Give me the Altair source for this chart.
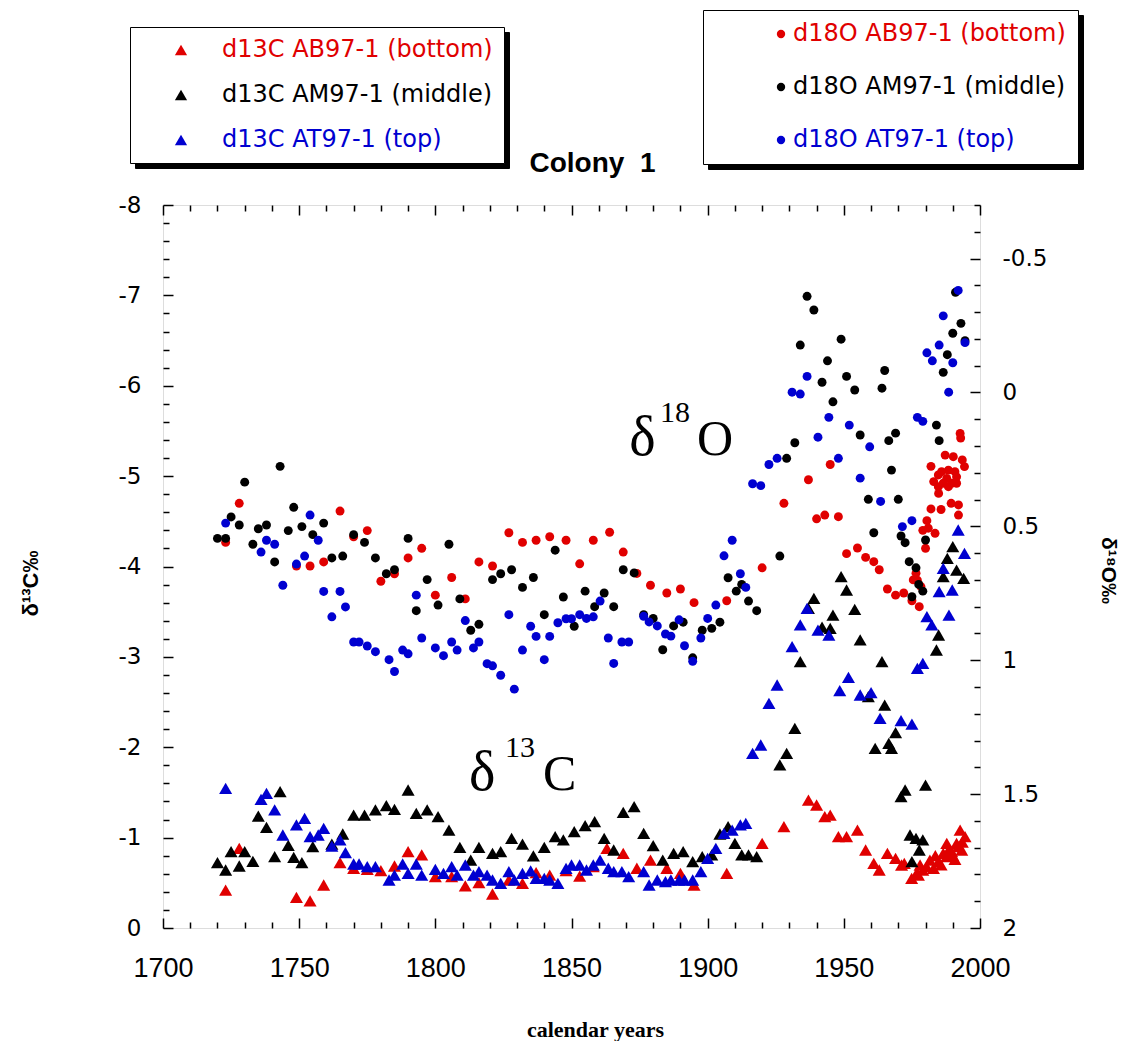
import altair as alt
import pandas as pd

RED = "#e00000"
BLACK = "#000000"
BLUE = "#0000d0"

C_NAMES = ["d13C AB97-1 (bottom)", "d13C AM97-1 (middle)", "d13C AT97-1 (top)"]
O_NAMES = ["d18O AB97-1 (bottom)", "d18O AM97-1 (middle)", "d18O AT97-1 (top)"]

# ---------------- d13C (triangles) ----------------
years_c_ab = [1723,1728,1749,1754,1759,1765,1770,1775,1780,1785,1790,1795,1800,1806,1811,1816,1821,1827,1832,1837,
              1842,1848,1853,1858,1863,1869,1874,1879,1885,1890,1895,1907,1920,1928,1937,1940,1943,1945,1948,1951,
              1955,1958,1961,1963,1966,1969,1971.2,1972.2,1974.9,1976.7,1977.4,1978,1979,1980.4,1981.6,1982.9,1983.6,
              1984.7,1985.7,1986.5,1987.8,1987.8,1988.4,1989.6,1990,1990.8,1991.4,1992,1992.7,1993.3,1993.5,1994.5]
c_ab = [-0.420,-0.882,-0.339,-0.299,-0.476,-0.723,-0.660,-0.650,-0.634,-0.686,-0.845,-0.808,-0.568,-0.568,-0.465,
        -0.501,-0.376,-0.531,-0.494,-0.612,-0.586,-0.634,-0.575,-0.680,-0.882,-0.826,-0.661,-0.752,-0.661,-0.605,
        -0.476,-0.605,-0.937,-1.121,-1.416,-1.361,-1.232,-1.250,-1.010,-1.010,-1.084,-0.863,-0.716,-0.642,-0.826,
        -0.771,-0.697,-0.716,-0.550,-0.605,-0.586,-0.697,-0.640,-0.678,-0.752,-0.660,-0.800,-0.734,-0.700,-0.826,
        -0.789,-0.937,-0.860,-0.845,-0.800,-0.760,-0.937,-0.900,-1.084,-0.863,-0.950,-1.010]

years_c_am = [1720,1723,1725,1728,1730,1733,1735,1738,1741,1743,1746,1748,1751,1755,1762,1766,1770,1774,1778,1782,
              1785,1790,1793,1797,1801,1805,1809,1813,1816,1821,1824,1828,1832,1836,1840,1844,1847,1851,1855,1858.5,
              1862,1865.5,1869,1873,1876.5,1880,1883.5,1887.5,1891,1894.5,1898,1901.5,1904.5,1907.5,1910,1912.5,1915,
              1918,1926.5,1929,1932,1934,1937,1939,1942,1945,1946,1949,1951,1954,1956,1959,1961.5,1964,1965,1966.5,
              1967.5,1969,1971,1972.5,1974.3,1975,1976.5,1977.7,1979,1980,1984,1984.8,1986.5,1988,1990,1991.4,1994]
c_am = [-0.723,-0.642,-0.845,-0.686,-0.845,-0.738,-1.239,-1.114,-0.789,-1.508,-0.915,-0.782,-0.723,-0.900,-0.929,
        -1.040,-1.250,-1.250,-1.306,-1.354,-1.313,-1.527,-1.269,-1.306,-1.232,-1.084,-0.893,-0.752,-0.893,-0.826,
        -0.845,-0.992,-0.929,-0.797,-0.893,-1.011,-0.974,-1.066,-1.132,-1.176,-0.992,-0.863,-1.280,-1.342,-1.048,
        -0.911,-0.752,-0.826,-0.844,-0.734,-0.789,-0.808,-1.040,-1.121,-0.937,-0.808,-0.808,-0.789,-1.804,-1.933,
        -2.210,-2.947,-3.537,-3.648,-3.330,-3.316,-3.463,-3.887,-3.740,-3.526,-3.187,-2.560,-1.988,-2.947,-2.467,
        -2.044,-1.988,-2.161,-1.453,-1.527,-1.029,-0.734,-0.992,-0.863,-0.974,-1.582,-3.076,-3.242,-3.887,-4.090,
        -4.219,-3.961,-3.869]

years_c_at = [1723,1736,1738,1741,1744,1749,1752,1754,1757,1759,1762,1765,1767,1770,1772,1775,1778,1783,1785,1788,
              1790,1793,1795,1800,1803,1806,1808,1811,1814,1816,1819,1821,1824,1827,1829,1832,1835,1837,1840,1842,
              1845,1848,1850,1853,1855.5,1858,1860.5,1863.5,1865.5,1868.5,1871,1876.5,1878.5,1881.5,1884.5,1886.5,
              1889.5,1891.5,1894.5,1897.5,1900,1903,1906,1909,1912,1914,1916.5,1919.5,1922.5,1925.5,1931,1934,1936.5,
              1940.5,1944.5,1948.5,1951.7,1956,1960,1963.3,1971,1975,1977,1979,1980.5,1982.3,1985,1986.5,1988.6,
              1989.8,1992,1994.3]
c_at = [-1.545,-1.424,-1.490,-1.306,-1.029,-1.140,-1.213,-1.011,-1.029,-1.103,-0.907,-0.974,-0.834,-0.708,-0.708,
        -0.679,-0.679,-0.531,-0.586,-0.708,-0.605,-0.708,-0.586,-0.649,-0.605,-0.679,-0.586,-0.697,-0.586,-0.623,
        -0.586,-0.531,-0.494,-0.623,-0.531,-0.605,-0.631,-0.550,-0.550,-0.531,-0.494,-0.660,-0.697,-0.697,-0.642,
        -0.697,-0.752,-0.661,-0.623,-0.623,-0.568,-0.623,-0.476,-0.531,-0.512,-0.531,-0.531,-0.531,-0.531,-0.623,
        -0.771,-0.882,-1.048,-1.084,-1.140,-1.158,-1.933,-2.025,-2.486,-2.689,-3.113,-3.353,-3.537,-3.297,-3.242,
        -2.626,-2.774,-2.578,-2.604,-2.320,-2.294,-2.257,-2.873,-2.929,-3.445,-3.353,-3.721,-3.980,-3.463,-3.740,
        -4.404,-4.146]

# ---------------- d18O (circles) ----------------
years_o_ab = [1723,1728,1749,1754,1759,1765,1770,1775,1780,1785,1790,1795,1800,1806,1811,1816,1821,1827,1832,1837,
              1842,1848,1853,1858,1864,1869,1874,1879,1885,1890,1895,1907,1920,1928,1937,1940,1943,1945,1948,1951,
              1955,1958,1961,1963,1966,1969,1972,1975,1975.5,1976.5,1977,1977.7,1978.3,1979,1980,1980.5,1981,1982,
              1982,1983,1983.5,1984.7,1984.7,1984.8,1985.7,1985.9,1986.5,1987.2,1987.8,1988.4,1988.4,1989.4,1989.6,
              1990.2,1990.8,1991.4,1991.4,1992.1,1992.1,1992.7,1992.9,1993.5,1994.3]
o_ab = [0.560,0.414,0.648,0.648,0.633,0.443,0.539,0.516,0.705,0.677,0.618,0.582,0.757,0.691,0.771,0.633,0.648,0.524,
        0.560,0.552,0.539,0.552,0.640,0.552,0.522,0.596,0.676,0.720,0.749,0.734,0.785,0.778,0.655,0.414,0.326,0.472,
        0.458,0.269,0.464,0.602,0.581,0.616,0.632,0.662,0.734,0.757,0.749,0.778,0.700,0.675,0.701,0.800,0.725,0.515,
        0.582,0.479,0.507,0.435,0.276,0.333,0.526,0.308,0.352,0.377,0.437,0.296,0.339,0.234,0.321,0.290,0.352,0.414,
        0.339,0.240,0.296,0.315,0.339,0.420,0.458,0.153,0.170,0.252,0.277]

years_o_am = [1720,1723,1725,1728,1730,1733,1735,1738,1741,1743,1746,1748,1751,1755,1759,1762,1766,1770,1774,1778,
              1782,1785,1790,1793,1797,1801,1805,1809,1813,1816,1821,1824,1828,1832,1836,1840,1844,1847,1851,1855,
              1858.5,1862,1865.5,1869,1873,1876.5,1880,1883.5,1887.5,1891,1894.5,1898,1901.5,1904.5,1907.5,1910.5,
              1912.5,1915,1918,1926.5,1929,1932,1934,1936.5,1939,1942,1944,1946,1949,1951,1954,1956,1959,1961,1964,
              1965,1966.5,1967.5,1969,1970,1971,1972.5,1974,1975,1976.5,1977.5,1979,1980,1984,1985,1986.5,1988,1990,
              1991,1993,1994.5]
o_am = [0.545,0.545,0.465,0.495,0.335,0.567,0.509,0.495,0.633,0.276,0.516,0.429,0.501,0.531,0.488,0.618,0.611,0.531,
        0.560,0.618,0.677,0.662,0.545,0.815,0.699,0.794,0.567,0.771,0.888,0.866,0.699,0.677,0.662,0.728,0.691,0.830,
        0.589,0.764,0.873,0.742,0.800,0.749,0.800,0.662,0.674,0.830,0.844,0.961,0.872,0.858,0.991,0.888,0.881,0.858,
        0.692,0.742,0.717,0.779,0.815,0.611,0.246,0.188,-0.177,-0.359,-0.308,-0.038,-0.118,0.035,-0.199,-0.060,
        -0.009,0.159,0.399,0.524,-0.016,-0.082,0.180,0.290,0.152,0.399,0.536,0.561,0.632,0.763,0.655,0.717,0.742,
        0.551,0.122,0.180,-0.075,-0.141,-0.221,-0.374,-0.258,-0.193]

years_o_at = [1723,1736,1738,1741,1744,1749,1752,1754,1757,1759,1762,1765,1767,1770,1772,1775,1778,1783,1785,1788,
              1790,1793,1795,1800,1803,1806,1808,1811,1814,1816,1819,1821,1824,1827,1829,1832,1835,1837,1840,1842,
              1845,1848,1850,1853,1855.5,1858,1860.5,1863.5,1865.5,1868.5,1871,1876.5,1878.5,1881.5,1884.5,1886.5,
              1889.5,1891.5,1894.5,1897.5,1900,1903,1906,1909,1912,1914,1916.5,1919.5,1922.5,1925.5,1931,1934,1936.5,
              1940.5,1944.5,1948,1952,1956,1959.5,1963.5,1971.5,1975,1977,1979,1980.5,1982.5,1985,1986.5,1988.5,1990,
              1992,1994.5]
o_at = [0.488,0.596,0.552,0.567,0.720,0.641,0.611,0.458,0.552,0.743,0.838,0.743,0.801,0.932,0.932,0.947,0.968,0.998,
        1.042,0.962,0.976,0.757,0.917,0.954,0.983,0.932,0.962,0.852,0.954,0.932,1.013,1.021,1.056,0.830,1.108,0.962,
        0.873,0.911,0.998,0.911,0.860,0.845,0.845,0.830,0.844,0.838,0.779,0.917,1.012,0.932,0.932,0.836,0.857,0.872,
        0.902,0.910,0.849,0.946,1.004,0.917,0.844,0.794,0.610,0.552,0.677,0.728,0.341,0.348,0.269,0.246,-0.001,
        0.006,-0.060,0.167,0.093,0.246,0.122,0.320,0.203,0.407,0.501,0.479,0.093,0.108,-0.148,-0.118,-0.177,-0.286,
        -0.001,-0.111,-0.381,-0.186]

# annotation labels (text, year, d13C-axis value, font size)
ann_text = ["δ", "18", "O", "δ", "13", "C"]
ann_year = [1871.2, 1882.5, 1896.1, 1812.4, 1825.6, 1839.5]
ann_val = [-5.23, -5.60, -5.23, -1.53, -1.89, -1.53]
ann_size = [56, 30, 50, 56, 30, 50]

x_major = [1700, 1750, 1800, 1850, 1900, 1950, 2000]
x_minor = [v for v in range(1710, 2000, 10) if v % 50 != 0]
yc_major = [-8, -7, -6, -5, -4, -3, -2, -1, 0]
yc_minor = [round(-8 + 0.2 * i, 1) for i in range(1, 40) if i % 5 != 0]
yo_major = [-0.5, 0, 0.5, 1, 1.5, 2]
yo_minor = [round(-0.7 + 0.1 * i, 1) for i in range(0, 27) if round((-0.7 + 0.1 * i) * 10) % 5 != 0]

ZW = "\u200b"  # zero-width marker keeps the shadow legends' domains distinct


def frame(name, years, vals):
    return pd.DataFrame({"series": name, "year": years, "value": vals})


tri = pd.concat([frame(C_NAMES[0], years_c_ab, c_ab), frame(C_NAMES[1], years_c_am, c_am),
                 frame(C_NAMES[2], years_c_at, c_at)], ignore_index=True)
tri["sh"] = tri["series"] + ZW
circ = pd.concat([frame(O_NAMES[0], years_o_ab, o_ab), frame(O_NAMES[1], years_o_am, o_am),
                  frame(O_NAMES[2], years_o_at, o_at)], ignore_index=True)
circ["sh"] = circ["series"] + ZW
ann = pd.DataFrame({"text": ann_text, "year": ann_year, "value": ann_val, "fs": ann_size})

XS = alt.Scale(domain=[1700, 2000], nice=False, zero=False)
YC = alt.Scale(domain=[-8, 0], nice=False, zero=False, reverse=True)
YO = alt.Scale(domain=[-0.7, 2], nice=False, zero=False, reverse=True)

LAB = "(datum.value < 0 ? '-' : '') + abs(datum.value)"
TICKFONT_Y = "DejaVu Sans"
TICKFONT_X = "Liberation Sans Narrow, Liberation Sans, sans-serif"

common = dict(domain=False, grid=False, tickColor="black", labelColor="black", titleColor="black")

ax_bottom = alt.Axis(orient="bottom", values=x_major, offset=-10, tickSize=10, tickWidth=1.5,
                     labelFont=TICKFONT_X, labelFontSize=27, labelPadding=27, labelFlush=False,
                     labelOverlap=False, format="d",
                     title="calendar years", titleFont="Liberation Serif", titleFontSize=22,
                     titleFontWeight="bold", titleX=432, titleY=118, titleAlign="center",
                     titleBaseline="alphabetic", titleAngle=0, **common)
ax_left = alt.Axis(orient="left", values=yc_major, offset=-10, tickSize=10, tickWidth=1.5,
                   labelFont=TICKFONT_Y, labelFontSize=23, labelPadding=22, labelExpr=LAB,
                   title="δ¹³C‰", titleFont="Liberation Sans", titleFontSize=22, titleFontWeight="bold",
                   titleAngle=270, titleX=-143, titleY=378, titleAlign="center", titleBaseline="middle",
                   **common)
ax_top = alt.Axis(orient="top", values=x_major, offset=-10, tickSize=10, tickWidth=1.5, labels=False,
                  title="Colony\u00a0 1", titleFont="Liberation Sans", titleFontSize=28, titleFontWeight="bold",
                  titleX=429, titleY=-44, titleAlign="center", titleBaseline="alphabetic", titleAngle=0,
                  **common)
ax_right = alt.Axis(orient="right", values=yo_major, offset=-10, tickSize=10, tickWidth=1.5,
                    labelFont=TICKFONT_Y, labelFontSize=23, labelPadding=22, labelExpr=LAB,
                    title="δ¹⁸O‰", titleFont="Liberation Sans", titleFontSize=21, titleFontWeight="bold",
                    titleAngle=90, titleX=137, titleY=365, titleAlign="center", titleBaseline="middle",
                    **common)
minor = dict(offset=-6, tickSize=6, tickWidth=1.5, labels=False, title=None, **common)
ax_bottom_minor = alt.Axis(orient="bottom", values=x_minor, **minor)
ax_top_minor = alt.Axis(orient="top", values=x_minor, **minor)
ax_left_minor = alt.Axis(orient="left", values=yc_minor, **minor)
ax_right_minor = alt.Axis(orient="right", values=yo_minor, **minor)

LABCOL = ("indexof(datum.value, 'bottom') >= 0 ? '%s' : (indexof(datum.value, '(top)') >= 0 ? '%s' : '%s')"
          % (RED, BLUE, BLACK))
LFS = 24  # legend label font size
EM = LFS / 2048.0  # DejaVu Sans units -> px
W_C = 23097 * EM   # widest d13C legend label
W_O = 23244 * EM   # widest d18O legend label

leg_common_c = dict(orient="none", title=None, padding=11, symbolType="triangle-up",
                    symbolSize=150, symbolOffset=28, symbolStrokeWidth=0, labelFont="DejaVu Sans",
                    labelFontSize=LFS, labelLimit=500, rowPadding=21)
leg_c = alt.Legend(legendX=-33, legendY=-178, fillColor="white", strokeColor="black", labelOffset=29,
                   labelColor=alt.ExprRef(expr=LABCOL), zindex=2, **leg_common_c)
leg_c_shadow = alt.Legend(legendX=-28, legendY=-173, fillColor="black", strokeColor="black",
                          labelOffset=29 + W_C, labelExpr="'\u00a0'",
                          labelColor="black", symbolOpacity=0, zindex=1, **leg_common_c)

leg_common_o = dict(orient="none", title=None, padding=12, symbolType="circle",
                    symbolSize=70, symbolOffset=54, symbolStrokeWidth=0, labelFont="DejaVu Sans",
                    labelFontSize=LFS, labelLimit=500, rowPadding=29)
leg_o = alt.Legend(legendX=540, legendY=-195, fillColor="white", strokeColor="black", labelOffset=0,
                   labelColor=alt.ExprRef(expr=LABCOL), zindex=2, **leg_common_o)
leg_o_shadow = alt.Legend(legendX=545, legendY=-190, fillColor="black", strokeColor="black",
                          labelOffset=W_O, labelExpr="'\u00a0'",
                          labelColor="black", symbolOpacity=0, zindex=1, **leg_common_o)

minor_lb = alt.Chart(tri).mark_point(opacity=0).encode(
    x=alt.X("year:Q", scale=XS, axis=ax_bottom_minor),
    y=alt.Y("value:Q", scale=YC, axis=ax_left_minor),
)
minor_tr = alt.Chart(circ).mark_point(opacity=0).encode(
    x=alt.X("year:Q", scale=XS, axis=ax_top_minor),
    y=alt.Y("value:Q", scale=YO, axis=ax_right_minor),
)

tri_layer = alt.Chart(tri).mark_point(filled=True, size=170, opacity=1, strokeWidth=0).encode(
    x=alt.X("year:Q", scale=XS, axis=ax_bottom),
    y=alt.Y("value:Q", scale=YC, axis=ax_left),
    color=alt.Color("series:N", scale=alt.Scale(domain=C_NAMES, range=[RED, BLACK, BLUE]), legend=leg_c),
    shape=alt.Shape("sh:N", scale=alt.Scale(domain=[n + ZW for n in C_NAMES], range=["triangle-up"] * 3),
                    legend=leg_c_shadow),
)

circ_layer = alt.Chart(circ).mark_point(filled=True, size=80, opacity=1, strokeWidth=0).encode(
    x=alt.X("year:Q", scale=XS, axis=ax_top),
    y=alt.Y("value:Q", scale=YO, axis=ax_right),
    color=alt.Color("series:N", scale=alt.Scale(domain=O_NAMES, range=[RED, BLACK, BLUE]), legend=leg_o),
    shape=alt.Shape("sh:N", scale=alt.Scale(domain=[n + ZW for n in O_NAMES], range=["circle"] * 3),
                    legend=leg_o_shadow),
)

text_layer = alt.Chart(ann).mark_text(font="Liberation Serif", align="left", baseline="alphabetic",
                                      color="black").encode(
    x=alt.X("year:Q", scale=XS, axis=None),
    y=alt.Y("value:Q", scale=YC, axis=None),
    text="text:N",
    size=alt.Size("fs:Q", scale=None, legend=None),
)

chart = alt.layer(minor_lb, minor_tr, tri_layer, circ_layer, text_layer).resolve_scale(
    x="independent", y="independent", color="independent", shape="independent"
).properties(
    width=817, height=723,
    autosize=alt.AutoSizeParams(type="none"),
    padding={"left": 155, "top": 197, "right": 145, "bottom": 113},
).configure_view(stroke="black", strokeWidth=2).configure_legend(strokeWidth=2).configure(background="white")

chart.save("out.html", embed_options={"renderer": "svg", "actions": False})
